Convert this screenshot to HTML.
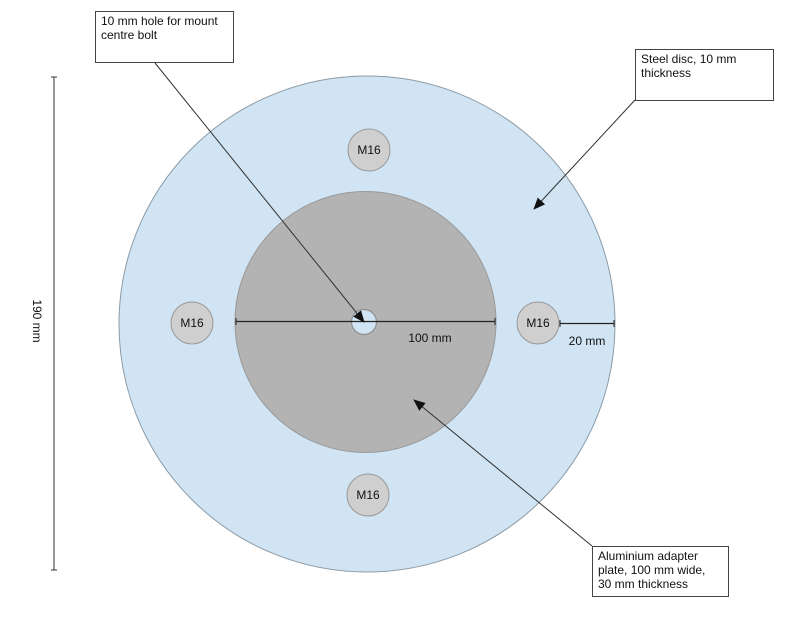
<!DOCTYPE html>
<html>
<head>
<meta charset="utf-8">
<style>
  html, body { margin:0; padding:0; background:#fff; }
  svg { display:block; }
  text { font-family: "Liberation Sans", Arial, sans-serif; font-size:12px; fill:#111; }
</style>
</head>
<body>
<svg width="799" height="628" viewBox="0 0 799 628" xmlns="http://www.w3.org/2000/svg">
  <defs>
    <marker id="ah" markerWidth="12" markerHeight="10" refX="11" refY="5" orient="auto" markerUnits="userSpaceOnUse">
      <path d="M0,0 L12,5 L0,10 Z" fill="#111"/>
    </marker>
  </defs>

  <!-- Vertical dimension -->
  <line x1="54" y1="77" x2="54" y2="570" stroke="#333" stroke-width="1"/>
  <line x1="51" y1="77" x2="57" y2="77" stroke="#333" stroke-width="1"/>
  <line x1="51" y1="570" x2="57" y2="570" stroke="#333" stroke-width="1"/>
  <text x="37" y="321" text-anchor="middle" transform="rotate(90 37 321)" dy="4">190 mm</text>

  <!-- Steel disc -->
  <circle cx="367" cy="324" r="248" fill="#d0e4f3" stroke="#8c9ba6" stroke-width="1"/>

  <!-- Aluminium plate -->
  <circle cx="365.5" cy="322" r="130.5" fill="#b3b3b3" stroke="#999" stroke-width="1"/>

  <!-- Center hole -->
  <circle cx="364" cy="322" r="12.5" fill="#d0e4f3" stroke="#8f8f8f" stroke-width="1.2"/>

  <!-- M16 holes -->
  <g fill="#cfcfcf" stroke="#999" stroke-width="1">
    <circle cx="369" cy="150" r="21"/>
    <circle cx="192" cy="323" r="21"/>
    <circle cx="538" cy="323" r="21"/>
    <circle cx="368" cy="495" r="21"/>
  </g>
  <text x="369" y="154" text-anchor="middle">M16</text>
  <text x="192" y="327" text-anchor="middle">M16</text>
  <text x="538" y="327" text-anchor="middle">M16</text>
  <text x="368" y="499" text-anchor="middle">M16</text>

  <!-- 100 mm dimension -->
  <line x1="236" y1="321.5" x2="495" y2="321.5" stroke="#222" stroke-width="1.2"/>
  <line x1="236" y1="318" x2="236" y2="325" stroke="#222" stroke-width="1"/>
  <line x1="495" y1="318" x2="495" y2="325" stroke="#222" stroke-width="1"/>
  <text x="430" y="342" text-anchor="middle">100 mm</text>

  <!-- 20 mm dimension -->
  <line x1="560" y1="323.5" x2="614" y2="323.5" stroke="#222" stroke-width="1.2"/>
  <line x1="560" y1="320" x2="560" y2="327" stroke="#222" stroke-width="1"/>
  <line x1="614" y1="320" x2="614" y2="327" stroke="#222" stroke-width="1"/>
  <text x="587" y="345" text-anchor="middle">20 mm</text>

  <!-- Callout arrows -->
  <line x1="155" y1="63" x2="364" y2="322" stroke="#333" stroke-width="1" marker-end="url(#ah)"/>
  <line x1="635" y1="100" x2="534" y2="209" stroke="#333" stroke-width="1" marker-end="url(#ah)"/>
  <line x1="592" y1="546" x2="414" y2="400" stroke="#333" stroke-width="1" marker-end="url(#ah)"/>

  <!-- Callout boxes -->
  <rect x="95.5" y="11.5" width="138" height="51" fill="#fff" stroke="#444" stroke-width="1"/>
  <text x="101" y="25">10 mm hole for mount</text>
  <text x="101" y="39">centre bolt</text>

  <rect x="635.5" y="49.5" width="138" height="51" fill="#fff" stroke="#444" stroke-width="1"/>
  <text x="641" y="63">Steel disc, 10 mm</text>
  <text x="641" y="77">thickness</text>

  <rect x="592.5" y="546.5" width="136" height="50" fill="#fff" stroke="#444" stroke-width="1"/>
  <text x="598" y="560">Aluminium adapter</text>
  <text x="598" y="574">plate, 100 mm wide,</text>
  <text x="598" y="588">30 mm thickness</text>
</svg>
</body>
</html>
